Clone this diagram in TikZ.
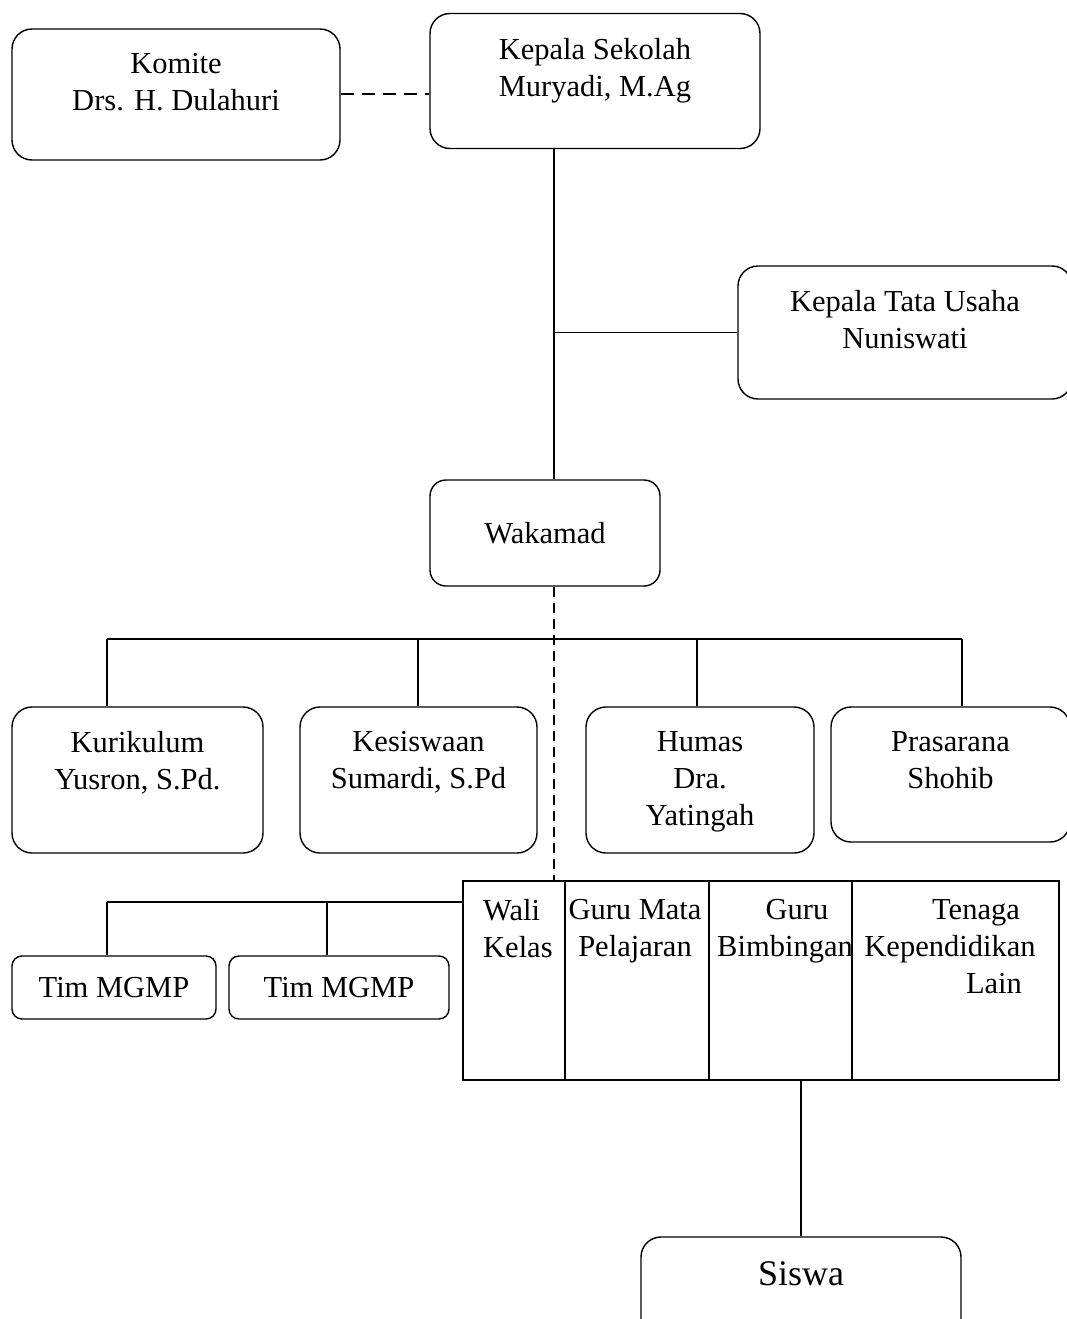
\documentclass[tikz,border=0pt]{standalone}
\usepackage{fontspec}
\setmainfont{Liberation Serif}
\begin{document}
\begin{tikzpicture}[x=1pt,y=-1pt,
  rbox/.style={draw, rounded corners=20pt, inner sep=0pt, line width=1.4pt},
  sbox/.style={draw, rounded corners=10pt, inner sep=0pt, line width=1.4pt},
  cell/.style={draw, inner sep=0pt, line width=1.4pt},
  conn/.style={line width=1.4pt},
  dconn/.style={line width=2pt, dash pattern=on 13pt off 8pt},
  vdconn/.style={line width=1.6pt, dash pattern=on 10pt off 6pt},
  txt/.style={anchor=north, inner sep=0pt, align=center, font=\fontsize{30.5}{37}\selectfont, execute at begin node=\strut},
  ctxt/.style={font=\fontsize{30.5}{37}\selectfont}
]
\useasboundingbox (0,0) rectangle (1067,1319);

% boxes
\node[rbox, minimum width=328pt, minimum height=131pt] (komite) at (176,94.5) {};
\node[rbox, minimum width=330pt, minimum height=135pt] (kepala) at (595,81) {};
\node[rbox, minimum width=334pt, minimum height=133pt] (ktu) at (905,332.5) {};
\node[rbox, rounded corners=16pt, minimum width=230pt, minimum height=106pt, ctxt] (wakamad) at (545,533) {Wakamad};
\node[rbox, minimum width=251pt, minimum height=146pt] (kur) at (137.5,780) {};
\node[rbox, minimum width=237pt, minimum height=146pt] (kes) at (418.5,780) {};
\node[rbox, minimum width=228pt, minimum height=146pt] (humas) at (700,780) {};
\node[rbox, minimum width=239pt, minimum height=135pt] (pras) at (950.5,774.5) {};
\node[sbox, minimum width=204pt, minimum height=63pt, ctxt] (tim1) at (114,987.5) {Tim MGMP};
\node[sbox, minimum width=220pt, minimum height=63pt, ctxt] (tim2) at (339,987.5) {Tim MGMP};
\node[rbox, minimum width=320pt, minimum height=110pt] (siswa) at (801,1292) {};

% table cells
\node[cell, minimum width=102pt, minimum height=199pt] (wali) at (514,980.5) {};
\node[cell, minimum width=144pt, minimum height=199pt] (gmp) at (637,980.5) {};
\node[cell, minimum width=143pt, minimum height=199pt] (gbk) at (780.5,980.5) {};
\node[cell, minimum width=207pt, minimum height=199pt] (tkl) at (955.5,980.5) {};

% texts
\node[txt] (komite-t) at ([yshift=-25pt]komite.north) {Komite\\Drs. H. Dulahuri};
\node[txt] (kepala-t) at ([yshift=-25pt]kepala.north) {Kepala Sekolah\\Muryadi, M.Ag};
\node[txt] (ktu-t) at ([yshift=-25pt]ktu.north) {Kepala Tata Usaha\\Nuniswati};
\node[txt] (kur-t) at ([yshift=-25pt]kur.north) {Kurikulum\\Yusron, S.Pd.};
\node[txt] (kes-t) at ([yshift=-25pt]kes.north) {Kesiswaan\\Sumardi, S.Pd};
\node[txt] (humas-t) at ([yshift=-25pt]humas.north) {Humas\\Dra.\\Yatingah};
\node[txt] (pras-t) at ([yshift=-25pt]pras.north) {Prasarana\\Shohib};
\node[txt, anchor=north west, align=left] (wali-t) at (483,899) {Wali\\Kelas};
\node[txt] (gmp-t) at (635,899) {Guru Mata\\Pelajaran};
\node[txt] (gbk-t) at (785,899) {\hspace*{24pt}Guru\\Bimbingan};
\node[txt] (tkl-t) at (950,899) {\hspace*{52pt}Tenaga\\Kependidikan\\\hspace*{88pt}Lain};
\node[anchor=base, inner sep=0pt, font=\fontsize{36}{43}\selectfont] (siswa-t) at (801,1285) {Siswa};

% coordinates
\coordinate (sp) at (554,0);
\coordinate (b1) at (107,639);
\coordinate (b2) at (418,639);
\coordinate (b3) at (697,639);
\coordinate (b4) at (962,639);
\coordinate (t1) at (107,902);
\coordinate (t2) at (327,902);

% connectors
\draw[dconn] (komite.east) -- (komite.east -| kepala.west);
\draw[conn] (kepala.south -| sp) -- (wakamad.north -| sp);
\draw[conn] (ktu.west) -- (ktu.west -| sp);
\draw[conn] (b1) -- (b4);
\draw[conn] (b1) -- (b1 |- kur.north);
\draw[conn] (b2) -- (b2 |- kes.north);
\draw[conn] (b3) -- (b3 |- humas.north);
\draw[conn] (b4) -- (b4 |- pras.north);
\draw[vdconn] (wakamad.south -| sp) -- (wali.north -| sp);
\draw[conn] (t1) -- (t1 -| wali.west);
\draw[conn] (t1) -- (t1 |- tim1.north);
\draw[conn] (t2) -- (t2 |- tim2.north);
\draw[conn] (gbk.south -| siswa.north) -- (siswa.north);
\end{tikzpicture}
\end{document}
